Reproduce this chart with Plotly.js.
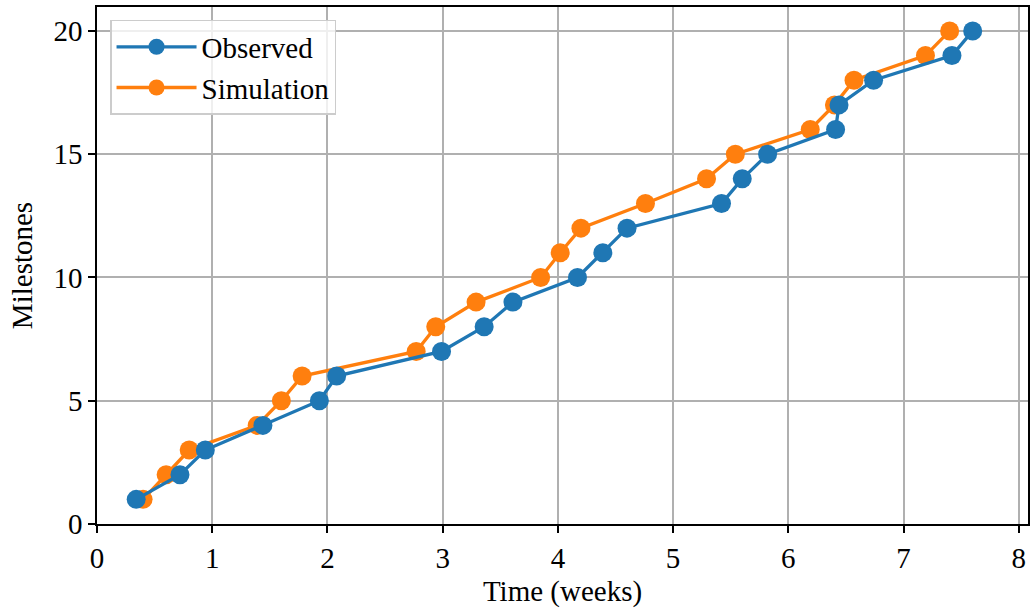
<!DOCTYPE html>
<html>
<head>
<meta charset="utf-8">
<script src="https://cdn.plot.ly/plotly-3.0.1.min.js"></script>
<style>html,body{margin:0;padding:0;background:#fff;}#chart{width:1030px;height:611px;}</style>
</head>
<body>
<div id="chart"></div>
<script>
const milestones = [1,2,3,4,5,6,7,8,9,10,11,12,13,14,15,16,17,18,19,20];
const observedTime = [0.34,0.72,0.94,1.44,1.93,2.08,2.99,3.36,3.61,4.17,4.39,4.60,5.42,5.60,5.82,6.41,6.44,6.74,7.42,7.60];
const simulationTime = [0.40,0.60,0.80,1.39,1.60,1.78,2.77,2.94,3.29,3.85,4.02,4.20,4.76,5.29,5.54,6.19,6.40,6.57,7.19,7.40];
const xTicks = [0,1,2,3,4,5,6,7,8];
const yTicks = [0,5,10,15,20];

const font = "'Liberation Serif','DejaVu Serif',serif";
const traces = [
  {x: simulationTime, y: milestones, name: 'Simulation', mode: 'lines+markers', legendrank: 2,
   line: {color: '#ff7f0e', width: 3.3}, marker: {color: '#ff7f0e', size: 19}},
  {x: observedTime, y: milestones, name: 'Observed', mode: 'lines+markers', legendrank: 1,
   line: {color: '#1f77b4', width: 3.3}, marker: {color: '#1f77b4', size: 19}}
];
const axisCommon = {
  showline: true, linecolor: '#000', linewidth: 1.5, mirror: true,
  ticks: 'outside', ticklen: 7, tickwidth: 1.5, tickcolor: '#000',
  showgrid: true, gridcolor: '#b0b0b0', gridwidth: 1.5, zeroline: false,
  tickfont: {family: font, size: 29, color: '#000'}
};
const layout = {
  width: 1030, height: 611,
  margin: {l: 97, r: 2, t: 7, b: 87},
  paper_bgcolor: '#fff', plot_bgcolor: '#fff',
  font: {family: font, color: '#000'},
  showlegend: true,
  legend: {x: 0.014, y: 0.975, xanchor: 'left', yanchor: 'top',
    bgcolor: 'rgba(255,255,255,0.8)', bordercolor: '#cccccc', borderwidth: 1.5,
    font: {family: font, size: 29, color: '#000'}, itemwidth: 80, tracegroupgap: 0},
  xaxis: Object.assign({}, axisCommon, {range: [0, 8.08], tickvals: xTicks,
    title: {text: 'Time (weeks)', font: {family: font, size: 29}, standoff: 8}}),
  yaxis: Object.assign({}, axisCommon, {range: [0, 20.97], tickvals: yTicks,
    title: {text: 'Milestones', font: {family: font, size: 29}, standoff: 12}})
};
Plotly.newPlot('chart', traces, layout, {displayModeBar: false});
</script>
</body>
</html>
